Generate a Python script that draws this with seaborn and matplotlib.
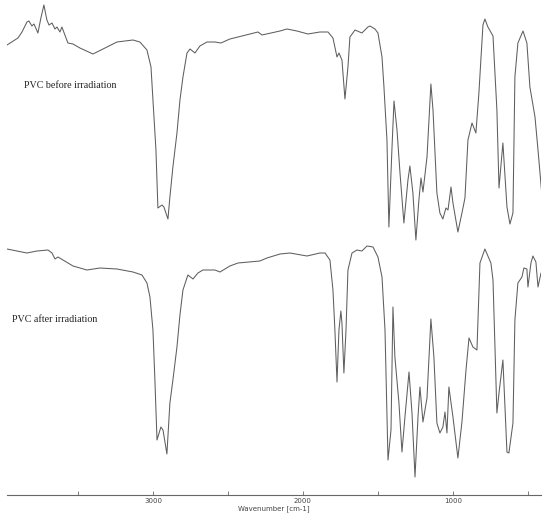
import numpy as np
import pandas as pd
import matplotlib.pyplot as plt
import seaborn as sns
from matplotlib.ticker import MultipleLocator


# ==========================================================
# Spectra (wavenumber in cm-1, intensity in a.u.)
# ==========================================================

before_wn = [
    3973, 3900, 3873, 3840, 3827, 3807, 3793, 3767, 3747, 3727, 3707, 3693,
    3673, 3653, 3640, 3620, 3607, 3587, 3567, 3533, 3487, 3400, 3333, 3240,
    3133, 3087, 3040, 3013, 3000, 2980, 2967, 2940, 2927, 2900, 2887, 2867,
    2840, 2820, 2800, 2773, 2753, 2720, 2687, 2640, 2587, 2547, 2487, 2433,
    2300, 2273, 2153, 2107, 2040, 1967, 1887, 1833, 1800, 1773, 1760, 1740,
    1720, 1700, 1687, 1653, 1607, 1567, 1553, 1520, 1500, 1473, 1460, 1440,
    1427, 1407, 1393, 1373, 1353, 1327, 1300, 1287, 1267, 1247, 1227, 1213,
    1200, 1173, 1147, 1133, 1107, 1087, 1067, 1047, 1033, 1013, 1000, 967,
    940, 920, 900, 873, 847, 827, 800, 787, 767, 733, 707, 693, 667, 640,
    620, 600, 587, 567, 533, 507, 487, 453, 433, 400,
]
before_int = [
    450, 457, 463, 473, 474, 469, 471, 462, 477, 490, 475, 470,
    472, 466, 468, 463, 468, 460, 452, 451, 447, 441, 446, 453,
    455, 453, 445, 428, 395, 345, 287, 290, 288, 276, 298, 328,
    362, 395, 418, 442, 446, 442, 449, 453, 453, 452, 456, 458,
    463, 460, 464, 466, 464, 461, 463, 463, 457, 438, 442, 435,
    396, 428, 458, 465, 462, 468, 469, 466, 462, 438, 408, 355,
    268, 345, 394, 365, 322, 272, 315, 329, 302, 255, 295, 317,
    303, 338, 411, 385, 302, 282, 276, 287, 285, 308, 292, 263,
    282, 297, 355, 372, 362, 402, 470, 476, 468, 459, 385, 307, 352, 288,
    271, 282, 418, 452, 464, 452, 408, 378, 345, 288,
]

after_wn = [
    3973, 3907, 3840, 3773, 3700, 3673, 3653, 3633, 3600, 3533, 3440, 3353,
    3240, 3133, 3073, 3040, 3020, 3000, 2987, 2973, 2947, 2933, 2907, 2887,
    2867, 2840, 2820, 2800, 2767, 2733, 2700, 2667, 2587, 2553, 2487, 2433,
    2287, 2240, 2153, 2087, 1973, 1887, 1853, 1820, 1800, 1787, 1773, 1760,
    1747, 1740, 1727, 1713, 1700, 1673, 1640, 1607, 1573, 1533, 1500, 1473,
    1453, 1433, 1413, 1400, 1387, 1360, 1340, 1320, 1293, 1273, 1253, 1233,
    1220, 1200, 1173, 1147, 1127, 1107, 1087, 1067, 1053, 1040, 1027, 1000,
    967, 940, 913, 893, 867, 840, 820, 787, 747, 733, 707, 693, 667, 640,
    627, 600, 587, 567, 540, 527, 507, 500, 480, 467, 447, 433, 413,
]
after_int = [
    246, 244, 242, 244, 245, 242, 236, 238, 235, 229, 225, 227,
    226, 223, 220, 212, 198, 165, 115, 55, 68, 65, 41, 92,
    115, 148, 180, 205, 220, 216, 222, 225, 225, 223, 229, 232,
    234, 237, 241, 242, 239, 242, 242, 235, 205, 165, 113, 165,
    184, 172, 122, 165, 225, 242, 245, 244, 249, 248, 238, 218,
    165, 35, 65, 188, 138, 92, 43, 78, 123, 82, 18, 78,
    108, 73, 97, 176, 138, 72, 62, 68, 83, 62, 108, 78,
    37, 73, 125, 157, 148, 145, 232, 246, 232, 215, 82, 102, 135, 43,
    42, 72, 175, 212, 218, 227, 226, 208, 232, 239, 233, 208, 222,
]

labels = ["PVC before irradiation", "PVC after irradiation"]

major_ticks = [3000, 2000, 1000]


# ==========================================================
# Plot
# ==========================================================

sns.set_style("white")

before = pd.DataFrame({"wn": before_wn, "intensity": before_int})
after = pd.DataFrame({"wn": after_wn, "intensity": after_int})

fig = plt.figure(figsize=(5.5, 5.18), dpi=100)
ax = fig.add_axes([7 / 550, 23 / 518, 534 / 550, 495 / 518])

line_color = "#5e5e5e"

sns.lineplot(data=before, x="wn", y="intensity", ax=ax,
             color=line_color, linewidth=0.75, sort=False)
sns.lineplot(data=after, x="wn", y="intensity", ax=ax,
             color=line_color, linewidth=0.75, sort=False)

ax.set_xlim(3973, 413)
ax.set_ylim(0, 495)

# spectrum labels
ax.text(3860, 409, labels[0], fontsize=7.2, family="Liberation Serif",
        color="#222222", va="center", ha="left")
ax.text(3940, 176, labels[1], fontsize=7.2, family="Liberation Serif",
        color="#222222", va="center", ha="left")

# axis styling
sns.despine(ax=ax, left=True, top=True, right=True)
ax.spines["bottom"].set_color("#666666")
ax.spines["bottom"].set_linewidth(0.8)

ax.set_yticks([])
ax.set_xticks(major_ticks)
ax.set_xticklabels([str(t) for t in major_ticks])
ax.xaxis.set_minor_locator(MultipleLocator(500))
ax.tick_params(axis="x", which="both", direction="in", length=3,
               width=0.6, color="#666666", labelsize=5, pad=2,
               labelcolor="#444444", bottom=True)

ax.set_xlabel("Wavenumber [cm-1]", fontsize=5, color="#444444", labelpad=1)
ax.set_ylabel("")

fig.savefig("out.png", dpi=100)
